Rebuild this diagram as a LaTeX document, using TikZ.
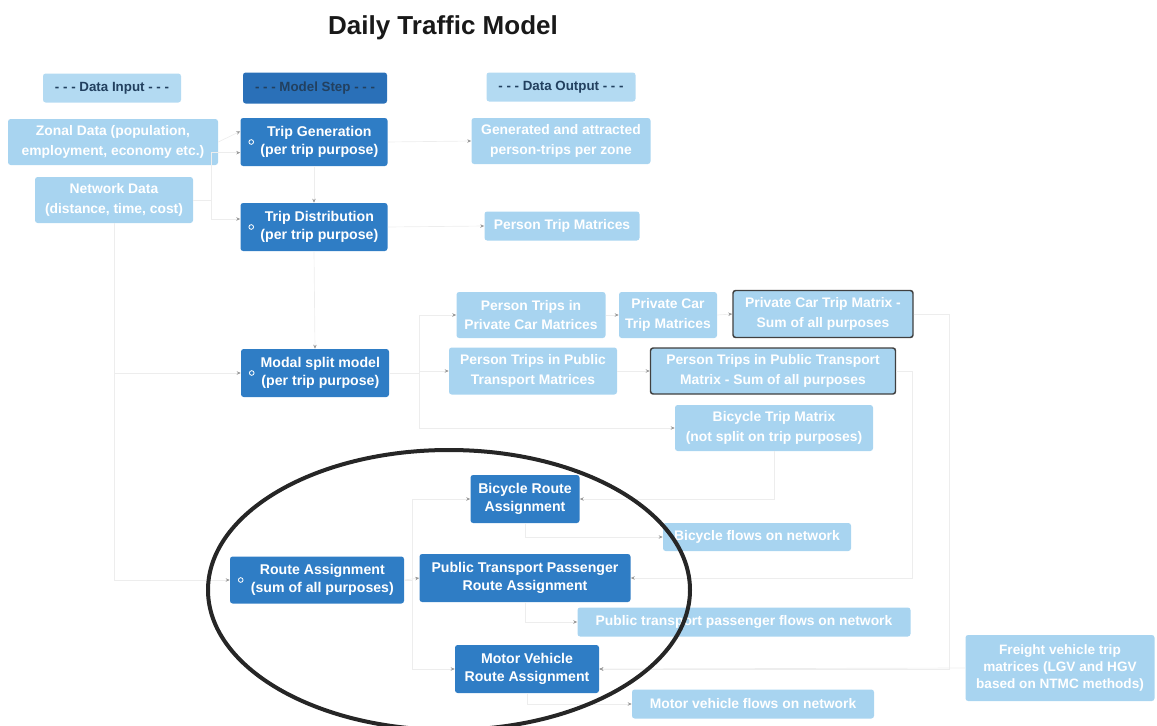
\documentclass[tikz,border=0pt]{standalone}
\usepackage{fontspec}
\setmainfont{Liberation Sans}
\usetikzlibrary{arrows.meta,calc}
\newcommand\pxl[1]{#1*0.75pt}
\definecolor{dkblue}{HTML}{2F7DC5}
\definecolor{stepblue}{HTML}{2A70B8}
\definecolor{ltblue}{HTML}{A8D4F0}
\definecolor{hdblue}{HTML}{B3DAF2}
\definecolor{navy}{HTML}{22405F}
\tikzset{
  box/.style={rounded corners=2pt, inner sep=0pt, align=center},
  dk/.style={box, fill=dkblue, text=white, font=\bfseries\fontsize{10.6}{14}\selectfont},
  lt/.style={box, fill=ltblue, text=white, font=\bfseries\fontsize{10.4}{14.5}\selectfont},
  ltsum/.style={lt, draw=black!75, line width=1.1pt},
  hd/.style={box, fill=hdblue, text=navy, font=\bfseries\fontsize{10}{12}\selectfont},
  stephd/.style={box, fill=stepblue, text=navy, font=\bfseries\fontsize{10}{12}\selectfont},
  icon/.style={circle, draw=white, line width=0.6pt, minimum size=3.5pt, inner sep=0pt},
  con/.style={draw=black!7, line width=0.5pt, -{Stealth[length=3pt,width=2.6pt,color=black!40]}},
  ring/.style={draw=black!85, line width=3pt}
}
\begin{document}
\begin{tikzpicture}[x=0.75pt,y=-0.75pt]
\useasboundingbox (0,0) rectangle (1157,725);
\node[font=\bfseries\fontsize{19.5}{22}\selectfont, text=black!90] (title) at (443,28) {Daily Traffic Model};

% headers
\node[hd, minimum width={\pxl{138}}, minimum height={\pxl{29}}] (hin) at (112,88) {- - - Data Input - - -};
\node[stephd, minimum width={\pxl{144}}, minimum height={\pxl{31}}] (hstep) at (315,88) {- - - Model Step - - -};
\node[hd, minimum width={\pxl{149}}, minimum height={\pxl{29}}] (hout) at (561,87) {- - - Data Output - - -};

% data input
\node[lt, minimum width={\pxl{210}}, minimum height={\pxl{46}}] (zd) at (113,142) {Zonal Data (population,\\employment, economy etc.)};
\node[lt, minimum width={\pxl{158}}, minimum height={\pxl{46}}] (nd) at (114,200) {Network Data\\(distance, time, cost)};

% model steps
\node[dk, minimum width={\pxl{147}}, minimum height={\pxl{48}}] (tg) at (314,142) {\hspace*{8pt}Trip Generation\\\hspace*{8pt}(per trip purpose)};
\node[dk, minimum width={\pxl{147}}, minimum height={\pxl{48}}] (td) at (314,227) {\hspace*{8pt}Trip Distribution\\\hspace*{8pt}(per trip purpose)};
\node[dk, minimum width={\pxl{148}}, minimum height={\pxl{48}}] (ms) at (315,373) {\hspace*{8pt}Modal split model\\\hspace*{8pt}(per trip purpose)};
\node[dk, minimum width={\pxl{174}}, minimum height={\pxl{47}}] (ra) at (317,580) {\hspace*{8pt}Route Assignment\\\hspace*{8pt}(sum of all purposes)};
\node[icon] (itg) at ([xshift={\pxl{11}}]tg.west) {};
\node[icon] (itd) at ([xshift={\pxl{11}}]td.west) {};
\node[icon] (ims) at ([xshift={\pxl{11}}]ms.west) {};
\node[icon] (ira) at ([xshift={\pxl{11}}]ra.west) {};

\node[dk, minimum width={\pxl{109}}, minimum height={\pxl{48}}] (bra) at (525,499) {Bicycle Route\\Assignment};
\node[dk, minimum width={\pxl{211}}, minimum height={\pxl{48}}] (pta) at (525,578) {Public Transport Passenger\\Route Assignment};
\node[dk, minimum width={\pxl{144}}, minimum height={\pxl{48}}] (mva) at (527,669) {Motor Vehicle\\Route Assignment};

% data output
\node[lt, minimum width={\pxl{179}}, minimum height={\pxl{46}}] (gen) at (561,141) {Generated and attracted\\person-trips per zone};
\node[lt, minimum width={\pxl{155}}, minimum height={\pxl{29}}] (ptm) at (562,226) {Person Trip Matrices};
\node[lt, minimum width={\pxl{149}}, minimum height={\pxl{46}}] (pcm) at (531,315) {Person Trips in\\Private Car Matrices};
\node[lt, minimum width={\pxl{98}}, minimum height={\pxl{46}}] (pcc) at (668,315) {Private Car\\Trip Matrices};
\node[ltsum, minimum width={\pxl{180}}, minimum height={\pxl{47}}] (pcs) at (823,314) {Private Car Trip Matrix -\\Sum of all purposes};
\node[lt, minimum width={\pxl{168}}, minimum height={\pxl{47}}] (ptpm) at (533,371) {Person Trips in Public\\Transport Matrices};
\node[ltsum, minimum width={\pxl{245}}, minimum height={\pxl{46}}] (pts) at (773,371) {Person Trips in Public Transport\\Matrix - Sum of all purposes};
\node[lt, minimum width={\pxl{198}}, minimum height={\pxl{46}}] (bcm) at (774,428) {Bicycle Trip Matrix\\(not split on trip purposes)};
\node[lt, minimum width={\pxl{188}}, minimum height={\pxl{28}}] (bfl) at (757,537) {Bicycle flows on network};
\node[lt, minimum width={\pxl{333}}, minimum height={\pxl{29}}] (pfl) at (744,622) {Public transport passenger flows on network};
\node[lt, minimum width={\pxl{242}}, minimum height={\pxl{29}}] (mfl) at (753,704) {Motor vehicle flows on network};
\node[lt, font=\bfseries\fontsize{10.2}{12.6}\selectfont, minimum width={\pxl{189}}, minimum height={\pxl{66}}] (frt) at (1060,668) {Freight vehicle trip\\matrices (LGV and HGV\\based on NTMC methods)};

% connectors
\draw[con] (zd.east) -- ([yshift=8pt]tg.west);
\draw[con] (nd.east) -- ++(18,0) |- ([yshift=-8pt]tg.west);
\draw[con] (nd.east) -- ++(18,0) |- ([yshift=6pt]td.west);
\draw[con] (nd.south) |- (ms.west);
\draw[con] (nd.south) |- (ra.west);
\draw[con] (tg.south) -- (td.north);
\draw[con] (td.south) -- (ms.north);
\draw[con] (tg.east) -- (gen.west);
\draw[con] (td.east) -- (ptm.west);
\draw[con] (ms.east) -- ++(30,0) |- (pcm.west);
\draw[con] (ms.east) -- ++(30,0) |- (ptpm.west);
\draw[con] (ms.east) -- ++(30,0) |- (bcm.west);
\draw[con] (pcm.east) -- (pcc.west);
\draw[con] (pcc.east) -- (pcs.west);
\draw[con] (ptpm.east) -- (pts.west);
\draw[con] (pcs.east) -- ++(36,0) |- (mva.east);
\draw[con] (pts.east) -- ++(16,0) |- (pta.east);
\draw[con] (bcm.south) |- (bra.east);
\draw[con] (frt.west) -- (mva.east);
\draw[con] (ra.east) -- ++(8,0) |- (bra.west);
\draw[con] (ra.east) -- (pta.west);
\draw[con] (ra.east) -- ++(8,0) |- (mva.west);
\draw[con] (bra.south) |- (bfl.west);
\draw[con] (pta.south) |- (pfl.west);
\draw[con] (mva.south) |- (mfl.west);

% highlight ring
\draw[ring] (449,590) ellipse [x radius={\pxl{241}}, y radius={\pxl{140}}];
\end{tikzpicture}
\end{document}
